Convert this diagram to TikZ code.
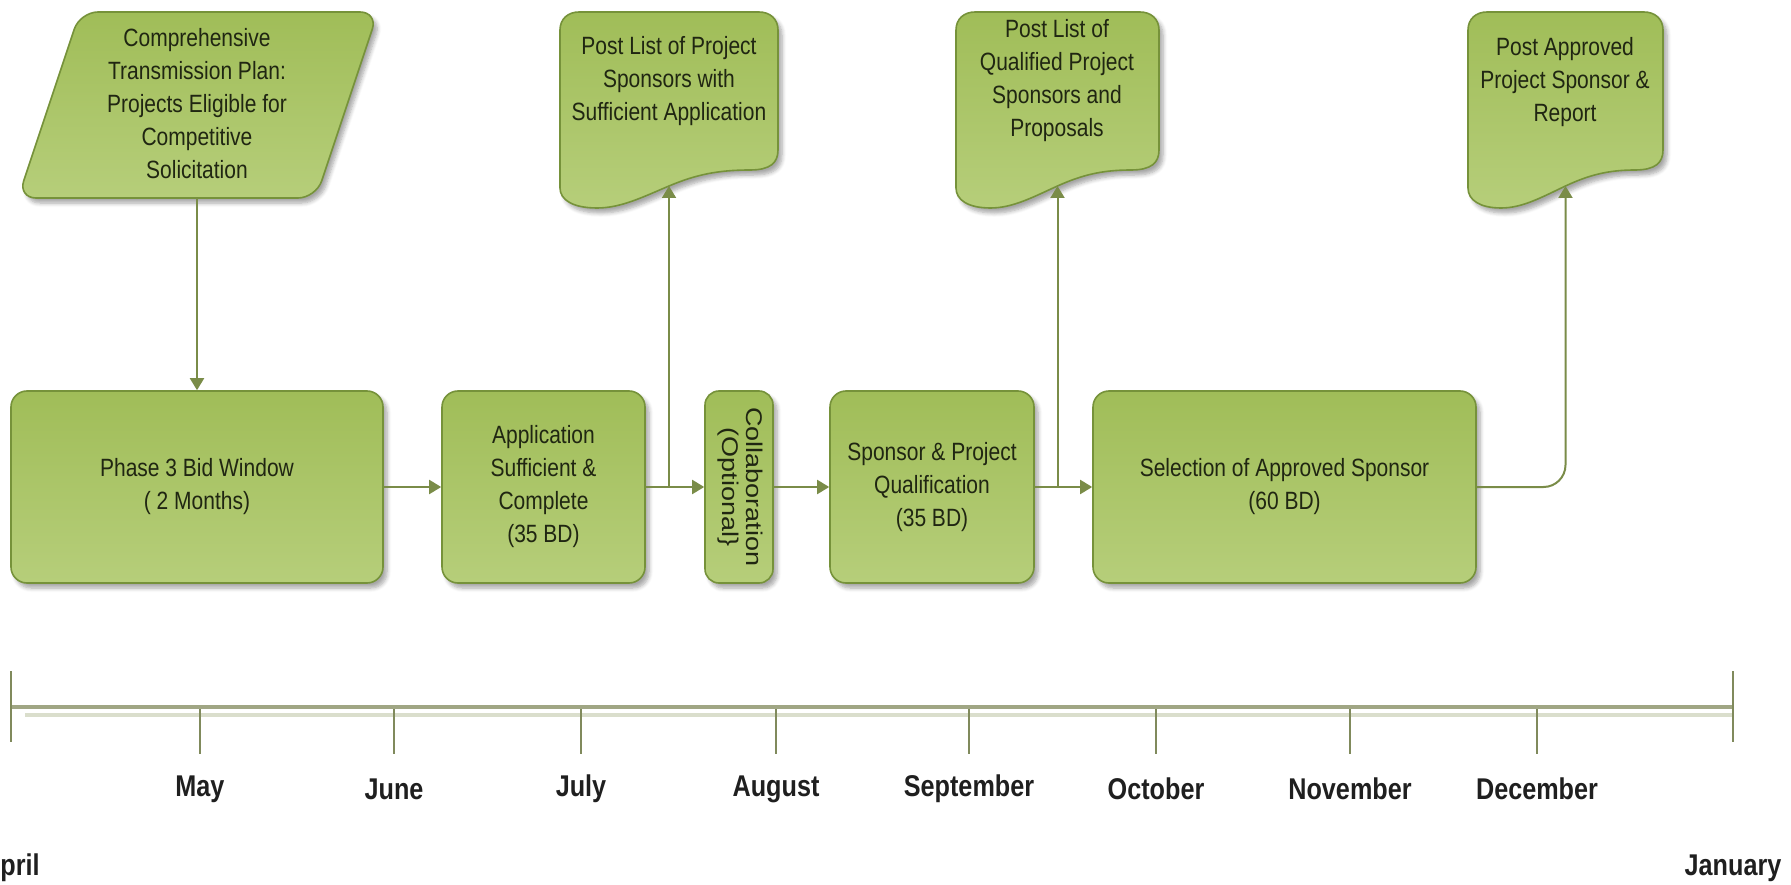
\documentclass[tikz,border=0pt]{standalone}
\usepackage{fontspec}
\usepackage{graphicx}
\usetikzlibrary{arrows.meta,shadows.blur}

\newfontfamily\labelfont[FakeStretch=0.84]{Liberation Sans}
\newfontfamily\plainsans{Liberation Sans}

\definecolor{boxtop}{RGB}{160,189,88}
\definecolor{boxbot}{RGB}{182,206,122}
\definecolor{boxedge}{RGB}{118,146,58}
\definecolor{wire}{RGB}{122,140,72}
\definecolor{axis}{RGB}{160,166,132}
\definecolor{axisshade}{RGB}{218,222,204}
\definecolor{tickline}{RGB}{128,138,92}
\definecolor{ink}{RGB}{32,38,18}

% outline of a document sheet with a wavy lower edge: #1 = left edge, #2 = width
\newcommand\docoutline[2]{%
  (#1,188) -- (#1,30)
  .. controls (#1,19) and ({#1+8},12) .. ({#1+19},12)
  -- ({#1+#2-19},12)
  .. controls ({#1+#2-8},12) and ({#1+#2},19) .. ({#1+#2},30)
  -- ({#1+#2},150)
  .. controls ({#1+#2},163) and ({#1+#2-8},170) .. ({#1+#2-28},170)
  .. controls ({#1+0.72*#2},170) and ({#1+0.62*#2},175) .. ({#1+0.5*#2},186)
  .. controls ({#1+0.38*#2},197) and ({#1+0.28*#2},208) .. ({#1+0.17*#2},208)
  .. controls ({#1+0.06*#2},208) and (#1,200) .. (#1,188) -- cycle}

\tikzset{
  greenfill/.style={top color=boxtop, bottom color=boxbot, draw=boxedge,
    line width=1.6pt,
    blur shadow={shadow xshift=4pt, shadow yshift=-5pt, shadow opacity=35,
      shadow blur steps=6, shadow blur radius=4pt}},
  boxtext/.style={align=center, text=ink, font=\labelfont\fontsize{25}{33}\selectfont},
  stepbox/.style={greenfill, boxtext, rectangle, rounded corners=16pt,
    inner sep=0pt, minimum height=192pt},
  caption/.style={boxtext, inner sep=0pt},
  flow/.style={draw=wire, line width=2pt, -{Triangle[length=12pt,width=14pt]}},
  month/.style={font=\labelfont\bfseries\fontsize{30}{36}\selectfont,
    text=black!88, inner sep=0pt},
  tickmark/.style={draw=tickline, line width=1.5pt},
}

\begin{document}
\begin{tikzpicture}[x=1pt,y=-1pt]
\useasboundingbox (0,0) rectangle (1791,885);

% source plan (parallelogram)
\path[greenfill, rounded corners=18pt] (18,198) -- (80,12) -- (378,12) -- (316,198) -- cycle;
\node[caption] (plan) at (197,104)
  {Comprehensive\\Transmission Plan:\\Projects Eligible for\\Competitive\\Solicitation};
\coordinate (planfoot) at (197,198);

% posted documents
\path[greenfill] \docoutline{560}{218};
\node[caption] (doc1) at (669,81) {Post List of Project\\Sponsors with\\Sufficient Application};
\coordinate (doc1foot) at (669,186);

\path[greenfill] \docoutline{956}{203};
\node[caption] (doc2) at (1057,81) {Post List of\\Qualified Project\\Sponsors and\\Proposals};
\coordinate (doc2foot) at (1057.5,186);

\path[greenfill] \docoutline{1468}{195};
\node[caption] (doc3) at (1565,82) {Post Approved\\Project Sponsor \&\\Report};
\coordinate (doc3foot) at (1565.5,186);

% process steps
\node[stepbox, minimum width=372pt] (bid) at (197,487) {Phase 3 Bid Window\\( 2 Months)};
\node[stepbox, minimum width=203pt] (app) at (543.5,487) {Application\\Sufficient \&\\Complete\\(35 BD)};
\node[stepbox, minimum width=68pt, rounded corners=14pt] (collab) at (739,487)
  {\rotatebox{-90}{\scalebox{1}[0.84]{\plainsans\fontsize{27}{28.5}\selectfont
   \begin{tabular}{@{}c@{}}Collaboration\\(Optional\}\end{tabular}}}};
\node[stepbox, minimum width=204pt] (spon) at (932,487) {Sponsor \& Project\\Qualification\\(35 BD)};
\node[stepbox, minimum width=383pt] (sel) at (1284.5,487) {Selection of Approved Sponsor\\(60 BD)};

% connectors
\draw[flow] (planfoot) -- (bid.north);
\draw[flow] (bid.east) -- (app.west);
\draw[flow] (app.east) -- (collab.west);
\draw[flow] (doc1foot |- app.east) -- (doc1foot);
\draw[flow] (collab.east) -- (spon.west);
\draw[flow] (spon.east) -- (sel.west);
\draw[flow] (doc2foot |- spon.east) -- (doc2foot);
\draw[flow, rounded corners=22pt] (sel.east) -| (doc3foot);

% timeline
\coordinate (tstart) at (11,707);
\coordinate (tend) at (1733,707);
\draw[axisshade, line width=4pt] (25,715) -- (1733,715);
\draw[axis, line width=4.5pt] (tstart) -- (tend);
\draw[tickmark] (11,671) -- (11,742);
\draw[tickmark] (1733,671) -- (1733,742);
\foreach \x/\m in {200/May, 394/June, 581/July, 776/August, 969/September,
                   1156/October, 1350/November, 1537/December} {
  \draw[tickmark] (\x,709) -- (\x,754);
  \node[month] (m-\m) at (\x,789) {\m};
}
\node[month] (m-April) at (11,868) {April};
\node[month] (m-January) at (1733,868) {January};
\end{tikzpicture}
\end{document}
